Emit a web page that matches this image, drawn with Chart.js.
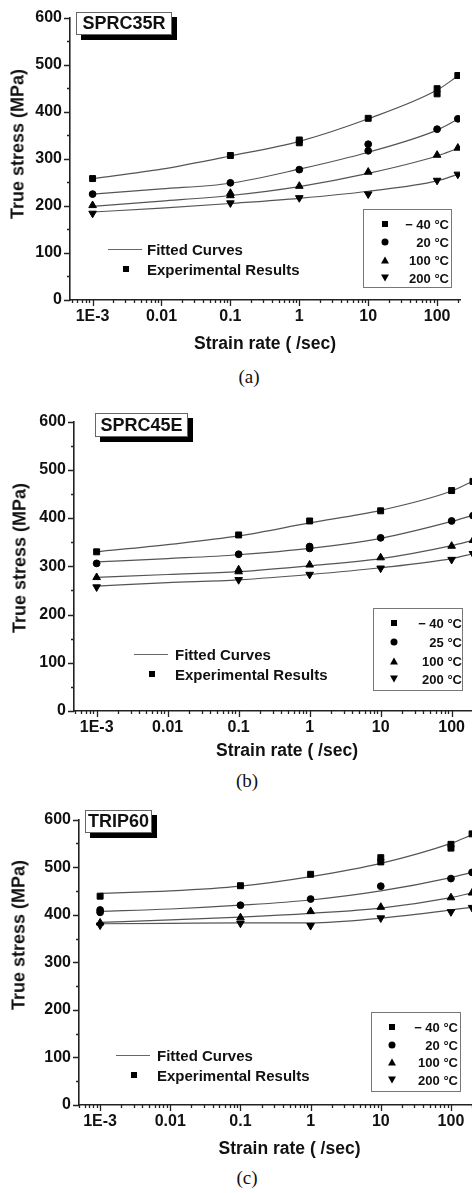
<!DOCTYPE html>
<html>
<head>
<meta charset="utf-8">
<title>True stress vs strain rate</title>
<script src="https://cdn.jsdelivr.net/npm/chart.js@4.4.1/dist/chart.umd.min.js"></script>
<style>
  html, body { margin: 0; padding: 0; background: #fff; }
  body { position: relative; width: 472px; height: 1193px; overflow: hidden;
         font-family: "Liberation Sans", Arial, sans-serif; color: #111; }
  canvas { position: absolute; left: 0; }
  .abs { position: absolute; white-space: nowrap; }
  .tag { border: 1px solid #666; background: #fff; box-shadow: 5px 5px 0 #000;
         font-weight: bold; font-size: 18px; text-align: center; box-sizing: border-box; }
  .ytitle { font-weight: bold; font-size: 18px; transform: translate(-50%, -50%) rotate(-90deg); }
  .caption { font-family: "Liberation Serif", "Times New Roman", serif; font-size: 19px;
             transform: translate(-50%, -50%); }
  .legbox { border: 1px solid #777; box-sizing: border-box; }
  .legtxt { font-weight: bold; font-size: 13px; transform: translate(-100%, -50%); }
  .fittxt { font-weight: bold; font-size: 15px; transform: translateY(-50%); }
  .mk { position: absolute; transform: translate(-50%, -50%); }
  .mk.sq { width: 6px; height: 6px; background: #000; }
  .mk.ci { width: 7px; height: 7px; border-radius: 50%; background: #000; }
  .mk.up { width: 0; height: 0; border-left: 4px solid transparent; border-right: 4px solid transparent; border-bottom: 7px solid #000; }
  .mk.dn { width: 0; height: 0; border-left: 4px solid transparent; border-right: 4px solid transparent; border-top: 7px solid #000; }
  .fitline { position: absolute; height: 1px; background: #666; }
</style>
</head>
<body>
<script>
// ---- shared axis values ----
const xTickValues = [0.001, 0.01, 0.1, 1, 10, 100];
const xTickLabels = ['1E-3', '0.01', '0.1', '1', '10', '100'];
const fitRates = [0.001, 0.01, 0.1, 1, 10, 100, 200];

// ---- (a) SPRC35R ----
const tempsA = ['\u2212 40 \u00b0C', '20 \u00b0C', '100 \u00b0C', '200 \u00b0C'];
const expRateA = [
  [0.001, 0.1, 1, 1, 10, 100, 100, 200],
  [0.001, 0.1, 1, 10, 10, 100, 200],
  [0.001, 0.1, 0.1, 1, 10, 100, 200],
  [0.001, 0.1, 1, 10, 100, 200]
];
const expStressA = [
  [258, 307, 334, 340, 386, 449, 438, 477],
  [225, 249, 277, 331, 317, 363, 385],
  [201, 227, 222, 242, 272, 308, 323],
  [184, 206, 217, 225, 254, 267]
];
const fitStressA = [
  [258, 278, 306, 337, 385, 446, 476],
  [225, 236, 248, 278, 314, 361, 384],
  [199, 210, 222, 241, 269, 306, 322],
  [187, 195, 205, 216, 231, 253, 267]
];

// ---- (b) SPRC45E ----
const tempsB = ['\u2212 40 \u00b0C', '25 \u00b0C', '100 \u00b0C', '200 \u00b0C'];
const expRateB = [
  [0.001, 0.1, 1, 10, 100, 200],
  [0.001, 0.1, 1, 1, 10, 100, 200],
  [0.001, 0.1, 0.1, 1, 10, 100, 200],
  [0.001, 0.1, 1, 10, 100, 200]
];
const expStressB = [
  [330, 365, 394, 415, 457, 476],
  [306, 325, 337, 341, 359, 394, 405],
  [277, 289, 293, 303, 318, 342, 354],
  [257, 272, 283, 296, 314, 326]
];
const fitStressB = [
  [330, 345, 363, 390, 416, 456, 477],
  [309, 316, 324, 337, 358, 393, 406],
  [277, 283, 289, 301, 316, 343, 354],
  [259, 266, 272, 283, 297, 316, 326]
];

// ---- (c) TRIP60 ----
const tempsC = ['\u2212 40 \u00b0C', '20 \u00b0C', '100 \u00b0C', '200 \u00b0C'];
const expRateC = [
  [0.001, 0.1, 1, 10, 10, 100, 100, 200],
  [0.001, 0.001, 0.1, 1, 10, 100, 200],
  [0.001, 0.1, 1, 10, 100, 200],
  [0.001, 0.1, 1, 10, 100, 200]
];
const expStressC = [
  [439, 461, 485, 520, 511, 548, 540, 570],
  [405, 410, 420, 433, 460, 476, 489],
  [383, 394, 407, 416, 436, 446],
  [378, 382, 377, 393, 406, 415]
];
const fitStressC = [
  [445, 450, 460, 480, 508, 550, 568],
  [407, 412, 420, 431, 450, 478, 489],
  [384, 389, 395, 403, 414, 436, 446],
  [381, 382, 383, 383, 393, 410, 416]
];

// marker look per temperature: square, circle, up triangle, down triangle
const markerStyles = ['rect', 'circle', 'triangle', 'triangle'];
const markerRotations = [0, 0, 0, 180];
const markerRadii = [4.2, 3.4, 4.4, 4.4];
const legendMarks = ['sq', 'ci', 'up', 'dn'];

Chart.defaults.font.family = '"Liberation Sans", Arial, sans-serif';
Chart.defaults.color = '#111';

// tick marks: long on decades / hundreds, short otherwise, pointing outward
const tickMarks = {
  id: 'tickMarks',
  afterDraw(chart) {
    const { ctx } = chart;
    const x = chart.scales.x, y = chart.scales.y;
    ctx.save();
    ctx.strokeStyle = '#222';
    ctx.lineWidth = 1.3;
    ctx.beginPath();
    for (let n = -4; n <= 2; n++) {
      for (let k = 1; k <= 9; k++) {
        const v = k * Math.pow(10, n);
        if (v < x.min || v > x.max) continue;
        const px = Math.round(x.getPixelForValue(v)) + 0.5;
        ctx.moveTo(px, x.top);
        ctx.lineTo(px, x.top + (k === 1 ? 6 : 3));
      }
    }
    for (let v = 0; v <= 600; v += 50) {
      const py = Math.round(y.getPixelForValue(v)) + 0.5;
      ctx.moveTo(y.right, py);
      ctx.lineTo(y.right - (v % 100 === 0 ? 6 : 3), py);
    }
    ctx.stroke();
    ctx.restore();
  }
};

function addDiv(cls, css, text) {
  const d = document.createElement('div');
  d.className = cls;
  Object.assign(d.style, css);
  if (text) d.textContent = text;
  document.body.appendChild(d);
  return d;
}

function buildPanel(p) {
  const canvas = document.createElement('canvas');
  canvas.width = p.w;
  canvas.height = p.h;
  canvas.style.top = p.top + 'px';
  document.body.appendChild(canvas);

  const datasets = [];
  p.fit.forEach((ys) => {
    datasets.push({
      data: fitRates.map((r, j) => ({ x: r, y: ys[j] })),
      showLine: true,
      borderColor: '#555',
      borderWidth: 1.2,
      pointRadius: 0,
      cubicInterpolationMode: 'monotone',
      order: 2
    });
  });
  p.expStress.forEach((ys, i) => {
    datasets.push({
      data: ys.map((s, j) => ({ x: p.expRate[i][j], y: s })),
      showLine: false,
      pointStyle: markerStyles[i],
      pointRotation: markerRotations[i],
      pointRadius: markerRadii[i],
      pointBackgroundColor: '#000',
      pointBorderColor: '#000',
      pointBorderWidth: 1,
      order: 1
    });
  });

  new Chart(canvas, {
    type: 'scatter',
    data: { datasets },
    options: {
      responsive: false,
      animation: false,
      layout: { padding: { top: 12, right: 12, left: 0, bottom: 0 } },
      plugins: { legend: { display: false }, tooltip: { enabled: false } },
      scales: {
        x: {
          type: 'logarithmic',
          min: p.xMin,
          max: p.xMax,
          grid: { display: false, drawTicks: false },
          border: { display: true, color: '#222', width: 1.6 },
          ticks: {
            autoSkip: false, maxRotation: 0, padding: 7,
            font: { size: 16, weight: 'bold' },
            callback: (v) => {
              const i = xTickValues.findIndex(t => Math.abs(v - t) < t * 1e-6);
              return i >= 0 ? xTickLabels[i] : '';
            }
          },
          title: {
            display: true, text: 'Strain rate ( /sec)',
            font: { size: 17.5, weight: 'bold' }, padding: { top: 0, bottom: 5 }
          },
          afterFit: (s) => { s.height = p.xH; }
        },
        y: {
          min: 0,
          max: 600,
          grid: { display: false, drawTicks: false },
          border: { display: true, color: '#222', width: 1.6 },
          ticks: {
            stepSize: 50, autoSkip: false, padding: 8,
            font: { size: 16, weight: 'bold' },
            callback: (v) => (v % 100 === 0 ? String(v) : '')
          },
          afterFit: (s) => { s.width = p.yW; }
        }
      }
    },
    plugins: [tickMarks]
  });

  // material tag with drop shadow
  const t = p.tag;
  addDiv('abs tag', { left: t.x + 'px', top: t.y + 'px', width: t.w + 'px', height: t.h + 'px',
    lineHeight: (t.h - 2) + 'px' }, t.text);

  addDiv('abs ytitle', { left: p.yTitle[0] + 'px', top: p.yTitle[1] + 'px' }, 'True stress (MPa)');
  addDiv('abs caption', { left: p.caption[0] + 'px', top: p.caption[1] + 'px' }, p.caption[2]);

  // temperature legend
  const L = p.leg;
  addDiv('abs legbox', { left: L.x + 'px', top: L.y + 'px', width: L.w + 'px', height: L.h + 'px' });
  p.temps.forEach((label, i) => {
    addDiv('mk ' + legendMarks[i], { left: L.mx + 'px', top: L.rows[i] + 'px' });
    addDiv('abs legtxt', { left: L.tx + 'px', top: L.rows[i] + 'px' }, label);
  });

  // fitted / experimental legend
  const F = p.fitLeg;
  addDiv('fitline', { left: F.x1 + 'px', top: F.y1 + 'px', width: (F.x2 - F.x1) + 'px' });
  addDiv('abs fittxt', { left: F.tx + 'px', top: F.y1 + 'px' }, 'Fitted Curves');
  addDiv('mk sq', { left: F.mx + 'px', top: F.y2 + 'px' });
  addDiv('abs fittxt', { left: F.tx + 'px', top: F.y2 + 'px' }, 'Experimental Results');
}

buildPanel({
  top: 0, w: 472, h: 360, yW: 70, xH: 60, xMin: 4.7e-4, xMax: 215,
  expRate: expRateA, expStress: expStressA, fit: fitStressA, temps: tempsA,
  tag: { x: 76, y: 12, w: 96, h: 23, text: 'SPRC35R' },
  yTitle: [18, 144], caption: [249, 377, '(a)'],
  leg: { x: 363, y: 209, w: 89, h: 79, mx: 385, tx: 449, rows: [224, 242, 260, 278] },
  fitLeg: { x1: 108, x2: 142, y1: 249, tx: 147, mx: 126, y2: 269 }
});

buildPanel({
  top: 404, w: 512, h: 363, yW: 74, xH: 56, xMin: 4.8e-4, xMax: 480,
  expRate: expRateB, expStress: expStressB, fit: fitStressB, temps: tempsB,
  tag: { x: 95, y: 413, w: 93, h: 24, text: 'SPRC45E' },
  yTitle: [20, 558], caption: [247, 781, '(b)'],
  leg: { x: 373, y: 608, w: 90, h: 83, mx: 394, tx: 462, rows: [623, 642, 661, 679] },
  fitLeg: { x1: 134, x2: 168, y1: 654, tx: 175, mx: 152, y2: 674 }
});

buildPanel({
  top: 802, w: 512, h: 363, yW: 79, xH: 60, xMin: 5e-4, xMax: 500,
  expRate: expRateC, expStress: expStressC, fit: fitStressC, temps: tempsC,
  tag: { x: 85, y: 810, w: 67, h: 23, text: 'TRIP60' },
  yTitle: [19, 935], caption: [247, 1178, '(c)'],
  leg: { x: 371, y: 1012, w: 90, h: 80, mx: 392, tx: 458, rows: [1027, 1045, 1062, 1080] },
  fitLeg: { x1: 116, x2: 150, y1: 1055, tx: 157, mx: 134, y2: 1075 }
});
</script>
</body>
</html>
